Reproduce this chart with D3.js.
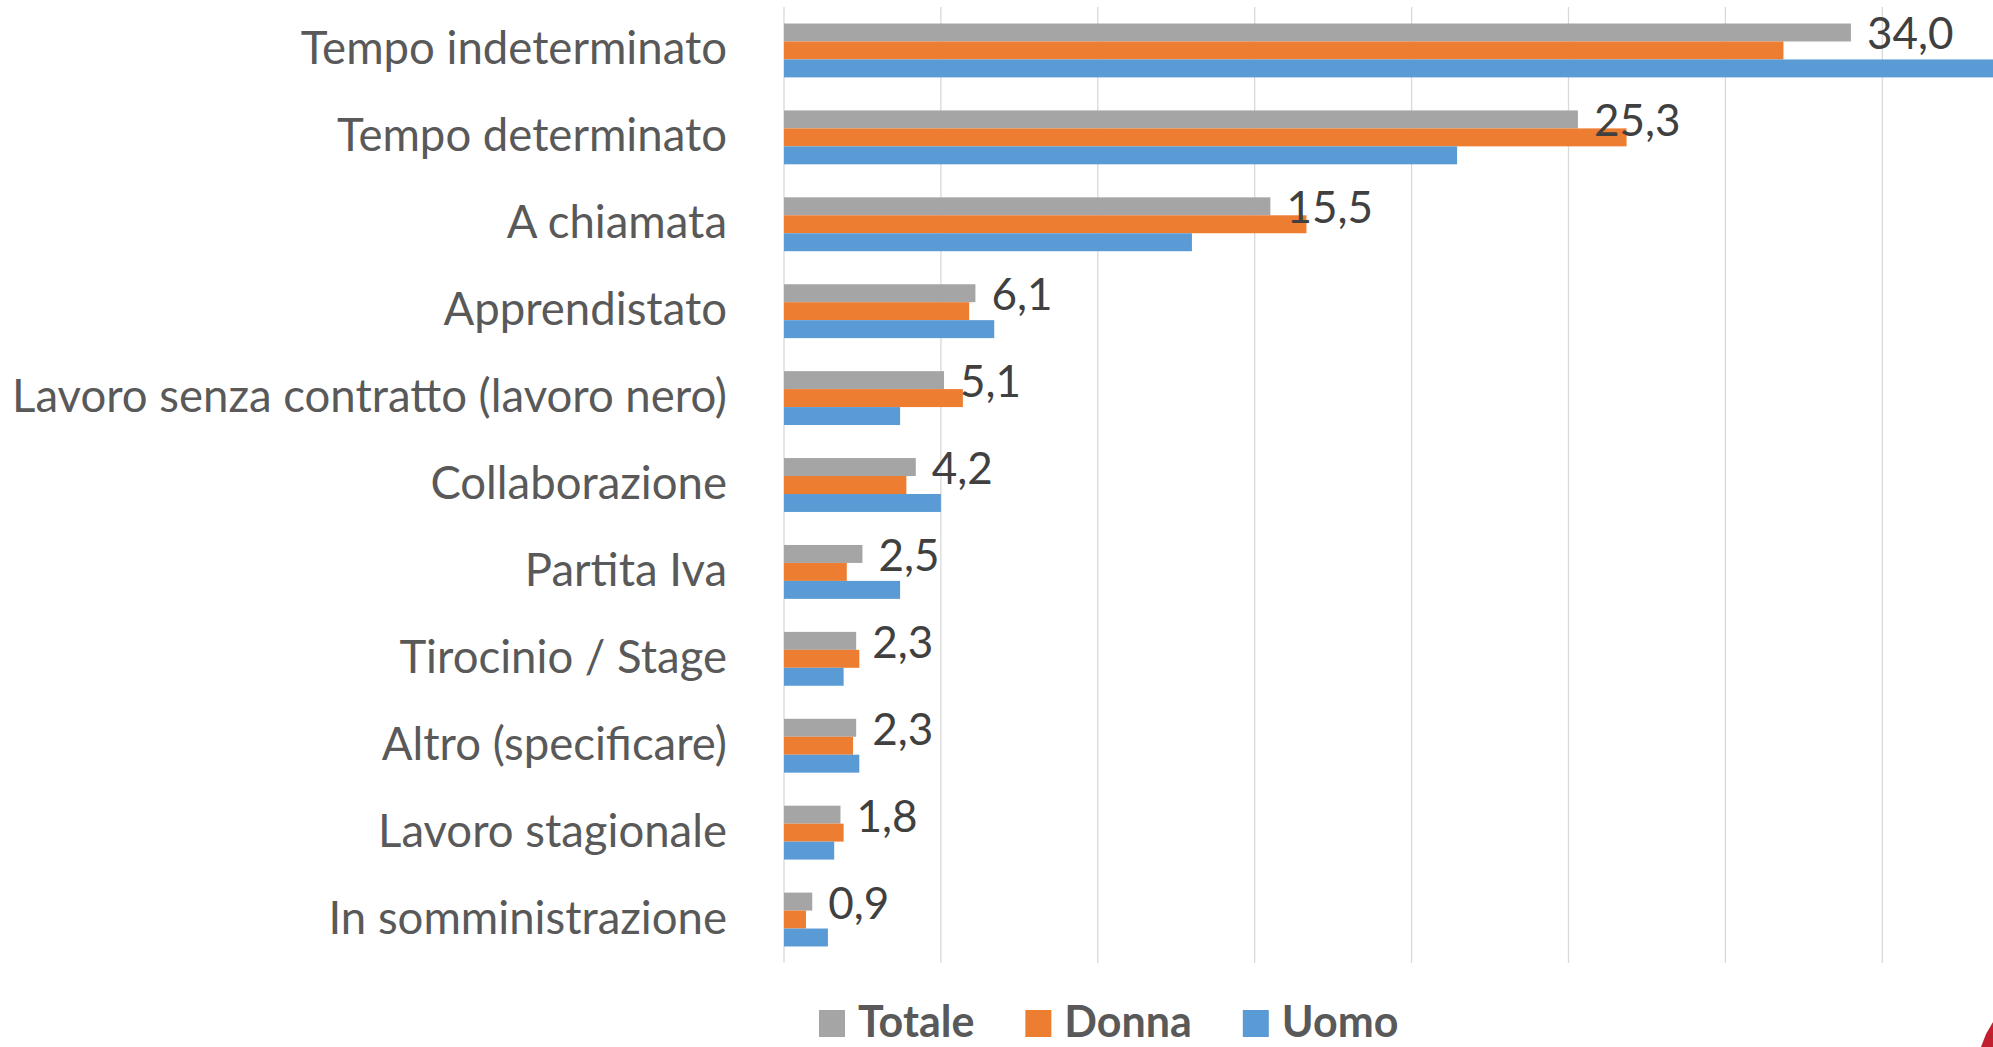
<!DOCTYPE html>
<html>
<head>
<meta charset="utf-8">
<script src="https://cdn.jsdelivr.net/npm/d3@7"></script>
<style>
  html, body { margin: 0; padding: 0; background: #fff; overflow: hidden; }
  text { font-family: Lato, "Open Sans", sans-serif; }
</style>
</head>
<body>
<div id="main"></div>
<script>
// categorie (dall'alto verso il basso)
var categories = [
    "Tempo indeterminato",
    "Tempo determinato",
    "A chiamata",
    "Apprendistato",
    "Lavoro senza contratto (lavoro nero)",
    "Collaborazione",
    "Partita Iva",
    "Tirocinio / Stage",
    "Altro (specificare)",
    "Lavoro stagionale",
    "In somministrazione"
];

var totale = [34.0, 25.3, 15.5, 6.1, 5.1, 4.2, 2.5, 2.3, 2.3, 1.8, 0.9];
var donna  = [31.85, 26.85, 16.65, 5.9, 5.7, 3.9, 2.0, 2.4, 2.2, 1.9, 0.7];
var uomo   = [39.2, 21.45, 13.0, 6.7, 3.7, 5.0, 3.7, 1.9, 2.4, 1.6, 1.4];

var seriesNames = ["Totale", "Donna", "Uomo"];
var seriesColors = ["#A5A5A5", "#ED7D31", "#5B9BD5"];
var gridTicks = [0, 5, 10, 15, 20, 25, 30, 35, 40];

var width = 1993, height = 1047;

var svg = d3.select("#main")
    .append("svg")
    .attr("width", width)
    .attr("height", height);

var x = d3.scaleLinear()
    .domain([0, 40])
    .range([784, 784 + 40 * 31.38]);

var y = d3.scaleBand()
    .domain(categories)
    .range([7, 963])
    .paddingInner(0.38)
    .paddingOuter(0.19);

var ySub = d3.scaleBand()
    .domain(seriesNames)
    .range([0, y.bandwidth()]);

var color = d3.scaleOrdinal().domain(seriesNames).range(seriesColors);

var it = d3.formatLocale({decimal: ",", thousands: ".", grouping: [3], currency: ["€", ""]});
var fmt = it.format(".1f");

// griglia verticale
svg.append("g")
    .selectAll("line")
    .data(gridTicks)
    .enter().append("line")
    .attr("x1", function(d) { return x(d); })
    .attr("x2", function(d) { return x(d); })
    .attr("y1", y.range()[0])
    .attr("y2", y.range()[1])
    .attr("stroke", "#D9D9D9")
    .attr("stroke-width", 1.3);

var rows = categories.map(function(c, i) {
    return {cat: c, values: [
        {name: "Totale", value: totale[i]},
        {name: "Donna", value: donna[i]},
        {name: "Uomo", value: uomo[i]}
    ]};
});

var groups = svg.append("g")
    .selectAll("g")
    .data(rows)
    .enter().append("g")
    .attr("transform", function(d) { return "translate(0," + y(d.cat) + ")"; });

groups.selectAll("rect")
    .data(function(d) { return d.values; })
    .enter().append("rect")
    .attr("x", x(0))
    .attr("y", function(d) { return ySub(d.name); })
    .attr("width", function(d) { return x(d.value) - x(0); })
    .attr("height", ySub.bandwidth())
    .attr("fill", function(d) { return color(d.name); });

// etichette valori (solo Totale)
groups.append("text")
    .attr("x", function(d, i) { return x(totale[i]) + 16; })
    .attr("y", ySub("Totale") + ySub.bandwidth() / 2 + 17)
    .attr("fill", "#404040")
    .style("font-size", "44px")
    .text(function(d, i) { return fmt(totale[i]); });

// etichette categorie
svg.append("g")
    .selectAll("text")
    .data(categories)
    .enter().append("text")
    .attr("x", 727)
    .attr("y", function(d) { return y(d) + y.bandwidth() / 2 + 14; })
    .attr("text-anchor", "end")
    .attr("fill", "#595959")
    .style("font-size", "45.5px")
    .text(function(d) { return d; });

// legenda
var legend = svg.append("g");
var lx = 819;
seriesNames.forEach(function(name) {
    legend.append("rect")
        .attr("x", lx)
        .attr("y", 1010)
        .attr("width", 26)
        .attr("height", 27)
        .attr("fill", color(name));
    var t = legend.append("text")
        .attr("x", lx + 39)
        .attr("y", 1037)
        .attr("fill", "#595959")
        .style("font-size", "43px")
        .style("font-weight", "bold")
        .text(name);
    lx += 39 + t.node().getComputedTextLength() + 51;
});

// frammento di logo in basso a destra
svg.append("path")
    .attr("d", "M1993,1022 L1986,1034 L1981,1047 L1993,1047 Z")
    .attr("fill", "#C0202F");
</script>
</body>
</html>
